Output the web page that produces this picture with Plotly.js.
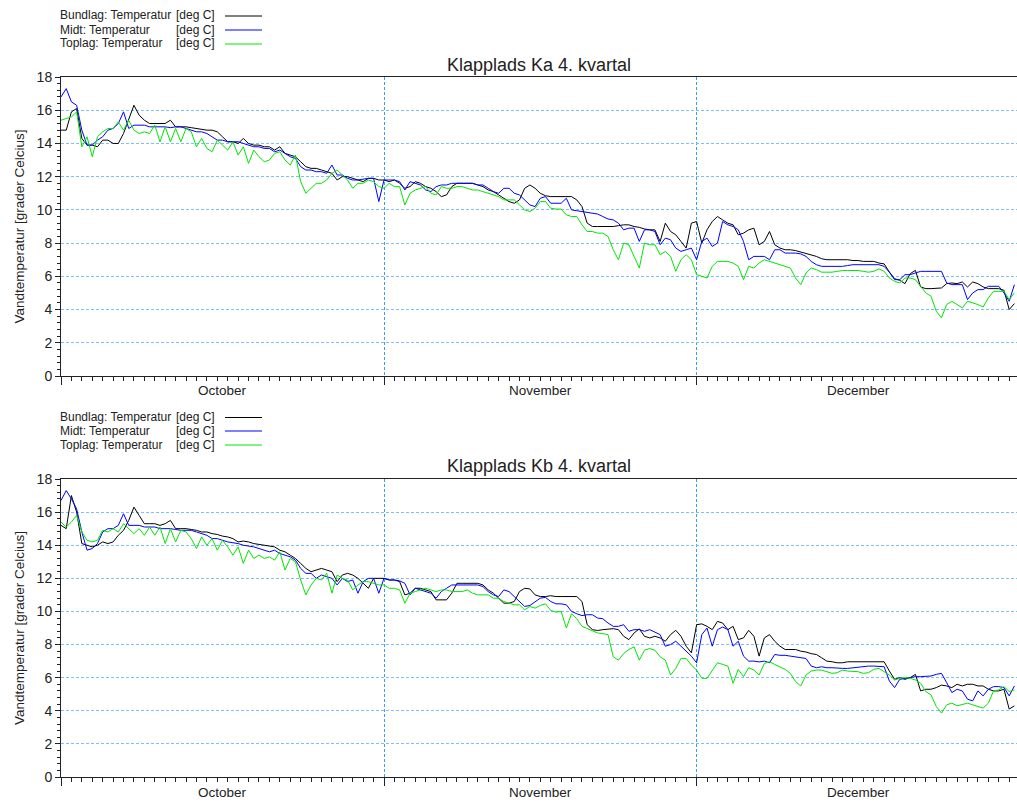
<!DOCTYPE html>
<html>
<head>
<meta charset="utf-8">
<script src="https://cdn.plot.ly/plotly-3.0.1.min.js"></script>
<style>
html,body{margin:0;padding:0;background:#fff;}
#chart{width:1017px;height:803px;}
</style>
</head>
<body>
<div id="chart"></div>
<script>
// ---- Data (12-hourly readings from 1 Oct, 00:00) ----
const startDate = "2014-10-01";
const stepHours = 12;
const monthStarts = ["2014-10-01", "2014-11-01", "2014-12-01"];
const monthLabelDates = ["2014-10-16 12:00", "2014-11-16", "2014-12-16 12:00"];
const monthNames = ["October", "November", "December"];
const seriesNames = ["Bundlag: Temperatur", "Midt: Temperatur", "Toplag: Temperatur"];
const unitLabel = "[deg C]";
const titles = ["Klapplads Ka 4. kvartal", "Klapplads Kb 4. kvartal"];

const kaBund = [
14.8,14.8,15.9,16.1,14.3,13.9,13.9,13.8,14.2,14.2,
14.0,14.0,14.6,15.5,16.3,15.7,15.4,15.2,15.2,15.2,
15.2,15.4,15.0,15.0,15.0,14.95,14.9,14.85,14.8,14.8,
14.7,14.4,14.1,14.1,14.0,14.3,14.0,13.9,13.9,13.8,
13.8,13.6,13.8,13.4,13.3,13.2,12.9,12.6,12.5,12.5,
12.4,12.3,12.2,11.8,12.0,12.0,11.9,11.8,11.7,11.9,
11.9,11.8,11.8,11.7,11.8,11.6,11.3,11.4,11.7,11.6,
11.4,11.3,11.1,10.8,10.9,11.4,11.6,11.6,11.6,11.6,
11.5,11.4,11.2,11.1,10.9,10.7,10.5,10.4,10.6,11.3,
11.5,11.3,
11.0,10.85,10.8,10.8,10.8,10.8,10.8,10.6,10.2,9.2,
9.0,9.0,9.0,9.0,9.0,9.05,9.1,9.1,9.0,8.95,
8.85,8.8,8.8,8.1,9.2,8.7,8.5,8.1,7.7,9.2,
9.3,8.0,8.8,9.3,9.6,9.4,9.2,9.1,8.5,8.6,
8.8,8.9,7.9,8.1,8.7,7.9,7.7,7.6,7.6,7.55,
7.46,7.4,7.3,7.2,7.06,7.0,7.0,7.0,7.0,7.0,
6.95,6.95,6.9,6.9,6.9,6.8,6.75,6.26,5.86,5.76,
5.56,6.16,6.36,5.36,5.26,5.26,5.26,5.3,5.56,5.6,
5.56,5.66,5.36,5.66,5.56,5.36,5.26,5.26,5.26,5.16,
4.0,4.36];
const kaMidt = [
16.8,17.3,16.5,16.3,14.8,13.9,13.9,14.2,14.4,14.8,
14.9,15.2,15.9,14.9,15.1,15.1,15.1,15.0,15.0,15.0,
15.0,14.95,15.0,15.0,14.9,14.8,14.7,14.7,14.6,14.4,
14.2,14.2,14.1,14.1,14.1,14.0,13.9,13.8,13.8,13.7,
13.7,13.5,13.6,13.4,13.2,13.1,12.6,12.4,12.4,12.3,
12.3,12.2,12.7,12.1,12.1,11.9,11.8,11.8,11.85,11.9,
11.9,10.5,11.8,11.8,11.8,11.7,11.2,11.7,11.6,11.5,
11.2,11.1,11.4,11.5,11.5,11.6,11.6,11.6,11.6,11.6,
11.5,11.5,11.3,11.1,11.0,11.3,11.3,11.0,10.9,10.6,
10.3,10.2,
10.7,10.8,10.4,10.4,10.4,10.7,10.0,9.95,9.9,9.85,
9.8,9.75,9.6,9.45,9.4,9.2,8.8,8.9,8.9,8.1,
8.8,8.8,8.7,7.9,8.3,8.2,7.7,7.5,7.6,7.7,
7.0,8.1,8.3,7.8,8.0,9.3,9.1,9.0,8.8,8.1,
7.0,7.2,7.2,7.2,7.0,7.6,7.6,7.4,7.4,7.4,
7.35,7.2,6.9,6.7,6.6,6.6,6.6,6.6,6.6,6.65,
6.7,6.7,6.7,6.7,6.7,6.7,6.6,6.25,5.8,5.8,
6.1,6.1,6.2,6.3,6.3,6.3,6.3,6.3,5.6,5.5,
5.5,5.5,4.6,5.0,5.2,5.2,5.4,5.4,5.4,5.0,
4.5,5.5];
const kaTop = [
15.4,15.5,15.6,15.9,13.8,14.4,13.2,14.4,14.7,14.9,
14.9,15.3,14.8,15.4,14.8,14.6,14.7,14.6,15.1,14.1,
15.0,14.1,14.9,14.1,14.9,14.7,13.8,14.3,13.7,13.5,
14.2,13.9,13.6,14.1,13.3,13.8,12.8,13.6,13.2,12.9,
13.0,13.4,13.5,13.0,12.7,13.3,11.7,11.0,11.3,11.6,
11.6,11.8,12.2,12.4,12.1,11.8,11.3,11.6,11.6,11.8,
11.7,11.4,11.3,11.6,11.4,11.4,10.3,11.0,11.2,11.3,
11.4,11.0,10.9,11.4,11.3,11.3,11.4,11.4,11.3,11.2,
11.2,11.1,11.0,10.9,10.8,10.6,10.6,10.6,10.3,10.0,
9.9,10.1,
10.5,10.5,10.1,10.05,10.05,9.7,9.6,9.6,9.1,8.7,
8.7,8.6,8.6,8.4,7.6,7.0,8.0,7.9,7.2,6.5,
8.0,7.9,7.9,7.3,7.5,7.2,6.3,7.0,7.3,7.0,
6.1,6.0,5.9,6.6,6.9,6.9,6.9,6.8,6.6,5.8,
6.6,6.5,6.8,7.0,6.9,6.8,6.7,6.6,6.5,5.9,
5.5,6.2,6.5,6.4,6.25,6.25,6.25,6.3,6.35,6.35,
6.35,6.35,6.3,6.25,6.3,6.45,6.3,5.9,5.7,5.6,
5.9,5.9,5.8,5.4,5.0,4.8,3.9,3.5,4.3,4.5,
4.3,4.1,4.5,4.4,4.3,4.15,4.7,5.1,5.1,5.1,
4.6,5.0];

const kbBund = [
15.2,15.0,17.0,16.0,14.1,14.0,13.9,14.0,14.2,14.1,
14.2,14.6,14.9,15.5,16.3,15.8,15.3,15.3,15.3,15.2,
15.3,15.5,15.0,15.0,15.0,14.95,14.9,14.8,14.8,14.7,
14.65,14.55,14.5,14.4,14.2,14.25,14.2,14.1,14.05,14.0,
13.95,13.9,13.7,13.6,13.4,13.2,12.9,12.6,12.4,12.5,
12.6,12.5,12.4,11.8,12.2,12.3,12.2,12.0,11.7,11.4,
12.0,12.0,12.0,11.9,11.9,11.8,11.0,11.1,11.4,11.4,
11.3,11.2,10.7,10.7,10.7,11.1,11.7,11.7,11.7,11.7,
11.7,11.6,11.3,11.1,10.8,10.5,10.5,10.6,11.2,11.4,
11.36,11.0,
10.9,10.9,10.95,10.9,10.9,10.9,10.9,10.9,10.6,9.2,
8.9,8.85,8.9,8.95,8.96,8.9,8.5,8.3,8.7,8.95,
8.5,8.4,8.5,8.4,8.2,8.6,8.86,8.5,7.9,7.5,
9.2,9.25,9.1,8.9,9.4,9.3,8.9,9.1,8.3,8.4,
8.86,8.5,7.3,8.4,8.6,8.2,7.9,7.7,7.7,7.7,
7.6,7.55,7.45,7.4,7.2,7.0,6.96,6.9,6.9,6.96,
6.96,6.96,6.96,6.96,6.96,6.96,6.96,6.4,5.9,6.0,
5.9,6.0,6.2,5.2,5.3,5.3,5.4,5.55,5.5,5.4,
5.6,5.5,5.6,5.6,5.5,5.5,5.3,5.2,5.2,5.3,
4.1,4.3];
const kbMidt = [
16.7,17.3,16.8,16.2,14.8,13.7,13.8,14.1,14.8,15.0,
15.0,15.2,15.9,15.2,15.2,15.2,15.1,15.1,15.1,15.0,
15.0,15.0,14.95,14.9,14.9,14.9,14.8,14.7,14.6,14.4,
14.4,14.3,14.2,14.15,14.1,14.0,13.95,13.9,13.8,13.7,
13.6,13.7,13.5,13.4,13.3,13.1,12.6,12.3,12.3,12.0,
12.2,12.1,12.0,11.6,12.0,11.8,11.9,11.1,11.8,12.0,
12.0,11.1,12.0,11.9,11.9,11.85,11.7,11.0,11.4,11.3,
11.2,11.1,10.8,11.2,11.4,11.6,11.6,11.6,11.6,11.6,
11.6,11.5,11.2,11.0,10.9,11.3,11.2,10.9,10.6,10.3,
10.36,10.6,
10.8,10.85,10.6,10.46,10.46,10.4,10.0,9.86,9.75,9.8,
9.8,9.6,9.56,9.3,9.1,9.1,9.2,8.8,8.9,8.9,
8.8,8.9,8.75,8.6,7.9,8.0,8.2,7.9,7.6,7.3,
6.9,8.6,9.0,7.9,8.9,9.06,8.9,7.9,8.2,7.3,
7.0,7.0,6.95,7.0,6.9,7.4,7.35,7.35,7.3,7.26,
7.2,7.16,6.7,6.6,6.66,6.6,6.6,6.56,6.56,6.56,
6.6,6.63,6.66,6.7,6.7,6.7,6.66,5.8,5.4,5.9,
5.96,6.0,6.06,6.06,6.1,6.1,6.2,6.26,5.7,5.1,
5.3,5.2,4.7,4.6,5.2,4.9,5.3,5.46,5.46,5.4,
4.9,5.5];
const kbTop = [
15.4,15.1,15.4,15.8,14.8,14.3,14.2,14.3,14.9,14.8,
15.0,14.8,15.3,15.0,14.7,15.0,14.6,15.1,14.6,15.1,
14.1,15.0,14.2,14.9,14.8,14.4,13.8,14.5,14.0,14.4,
13.7,14.3,13.9,13.4,13.9,12.9,13.7,13.2,13.4,13.2,
13.3,13.1,13.6,12.5,13.2,13.0,11.9,11.0,11.6,12.0,
11.9,12.3,11.1,12.2,12.0,11.9,11.3,11.6,11.8,11.8,
11.7,11.6,11.6,11.4,11.4,11.3,10.5,11.1,11.2,11.3,
11.4,11.3,11.2,11.3,11.3,11.2,11.2,11.2,11.3,11.1,
11.0,11.0,11.0,10.8,10.8,10.6,10.5,10.4,10.4,10.1,
10.3,10.2,
10.36,10.46,10.06,9.96,10.0,9.0,9.86,9.56,9.1,8.96,
8.8,8.7,8.66,8.6,7.26,7.06,7.46,7.7,7.86,7.06,
7.66,7.76,7.66,7.26,7.06,6.16,6.56,7.16,7.16,6.76,
6.46,5.96,5.96,6.46,6.9,6.8,6.7,5.66,6.5,6.06,
6.6,6.46,6.16,6.86,6.96,6.8,6.66,6.5,6.26,5.76,
5.5,6.16,6.4,6.46,6.46,6.36,6.26,6.3,6.46,6.4,
6.36,6.36,6.26,6.3,6.5,6.56,6.36,6.16,5.86,5.96,
6.0,5.96,5.86,5.66,5.16,4.96,4.26,3.86,4.36,4.46,
4.3,4.36,4.46,4.36,4.26,4.16,4.46,5.2,5.26,5.46,
5.16,5.26];

// ---- Time axis ----
function fmt(ms){ return new Date(ms).toISOString().slice(0,19).replace('T',' '); }
const t0 = Date.parse(startDate + "T00:00:00Z");
function timesFor(arr){ return arr.map((_, i) => fmt(t0 + i * stepHours * 3600000)); }

const lineColors = ["#000000", "#0000ff", "#00e600"];
const FONT = "Arial, 'Liberation Sans', sans-serif";
const TXT = "#222222";

function trace(vals, ci, xa, ya){
  return {x: timesFor(vals), y: vals, type: 'scatter', mode: 'lines',
    line: {color: lineColors[ci], width: 1}, xaxis: xa, yaxis: ya,
    name: seriesNames[ci], showlegend: false, hoverinfo: 'skip'};
}
const data = [
  trace(kaBund,0,'x','y'), trace(kaMidt,1,'x','y'), trace(kaTop,2,'x','y'),
  trace(kbBund,0,'x2','y2'), trace(kbMidt,1,'x2','y2'), trace(kbTop,2,'x2','y2')
];

// ---- Layout geometry ----
const W = 1017, H = 803, ML = 61, MR = 0;
const PW = W - ML - MR;
const px = x => (x - ML) / PW;   // pixel x -> paper x
const py = y => 1 - y / H;        // pixel y -> paper y

const xRange = ["2014-10-01 00:00", "2014-12-31 18:00"];
function xAxis(anchor){
  return {
    type: 'date', range: xRange, anchor: anchor,
    tickmode: 'array', tickvals: monthStarts, ticktext: monthStarts.map(() => ''),
    ticks: 'outside', ticklen: 8, tickwidth: 1, tickcolor: '#222',
    showline: true, linecolor: '#222', linewidth: 1, mirror: true,
    showgrid: true, gridcolor: '#3d9bff', gridwidth: 1, griddash: '3px,2px',
    zeroline: false, fixedrange: true,
    minor: {ticks: 'outside', ticklen: 4, tickwidth: 1, tickcolor: '#222',
            dtick: 86400000, tick0: "2014-10-01", showgrid: false}
  };
}
function yAxis(anchor, dom){
  return {
    domain: dom, anchor: anchor, range: [0, 18], tickmode: 'linear', tick0: 0, dtick: 2,
    ticks: 'outside', ticklen: 5, tickwidth: 1, tickcolor: '#222',
    showline: true, linecolor: '#222', linewidth: 1,
    showgrid: true, gridcolor: '#7fbfff', gridwidth: 1, griddash: '3px,2px',
    zeroline: false, fixedrange: true,
    tickfont: {family: FONT, size: 14, color: TXT},
    minor: {ticks: 'outside', ticklen: 3, tickwidth: 1, tickcolor: '#222',
            dtick: 0.4, tick0: 0, showgrid: false},
    title: {text: 'Vandtemperatur [grader Celcius]', font: {family: FONT, size: 13.5, color: TXT}, standoff: 8}
  };
}

const annotations = [];
const shapes = [];
function legendBlock(rowYs){
  for (let i = 0; i < 3; i++){
    annotations.push({xref: 'paper', yref: 'paper', x: px(58), y: py(rowYs[i]),
      xanchor: 'left', yanchor: 'middle', showarrow: false, text: seriesNames[i],
      font: {family: FONT, size: 12, color: TXT}});
    annotations.push({xref: 'paper', yref: 'paper', x: px(174), y: py(rowYs[i]),
      xanchor: 'left', yanchor: 'middle', showarrow: false, text: unitLabel,
      font: {family: FONT, size: 12, color: TXT}});
    shapes.push({type: 'line', xref: 'paper', yref: 'paper',
      x0: px(225), x1: px(262), y0: py(rowYs[i] + 0.5), y1: py(rowYs[i] + 0.5),
      line: {color: lineColors[i], width: 1}});
  }
}
legendBlock([15.5, 29.5, 43.5]);
legendBlock([417, 430.5, 444.5]);

annotations.push({xref: 'paper', yref: 'paper', x: 0.5, y: py(65), xanchor: 'center', yanchor: 'middle',
  showarrow: false, text: titles[0], font: {family: FONT, size: 18, color: TXT}});
annotations.push({xref: 'paper', yref: 'paper', x: 0.5, y: py(466), xanchor: 'center', yanchor: 'middle',
  showarrow: false, text: titles[1], font: {family: FONT, size: 18, color: TXT}});

[['x','y'],['x2','y2']].forEach(([xa, ya]) => {
  monthLabelDates.forEach((d, i) => {
    annotations.push({xref: xa, yref: ya, x: d, y: 0, yshift: -15, xanchor: 'center', yanchor: 'middle',
      showarrow: false, text: monthNames[i], font: {family: FONT, size: 13.5, color: TXT}});
  });
});

const layout = {
  width: W, height: H,
  margin: {l: ML, r: MR, t: 0, b: 0, pad: 0},
  paper_bgcolor: '#ffffff', plot_bgcolor: '#ffffff',
  font: {family: FONT, color: TXT},
  showlegend: false,
  xaxis: xAxis('y'),
  xaxis2: xAxis('y2'),
  yaxis: yAxis('x', [py(376), py(77)]),
  yaxis2: yAxis('x2', [py(777), py(479)]),
  annotations: annotations,
  shapes: shapes
};

Plotly.newPlot('chart', data, layout, {displayModeBar: false, staticPlot: true});
</script>
</body>
</html>
